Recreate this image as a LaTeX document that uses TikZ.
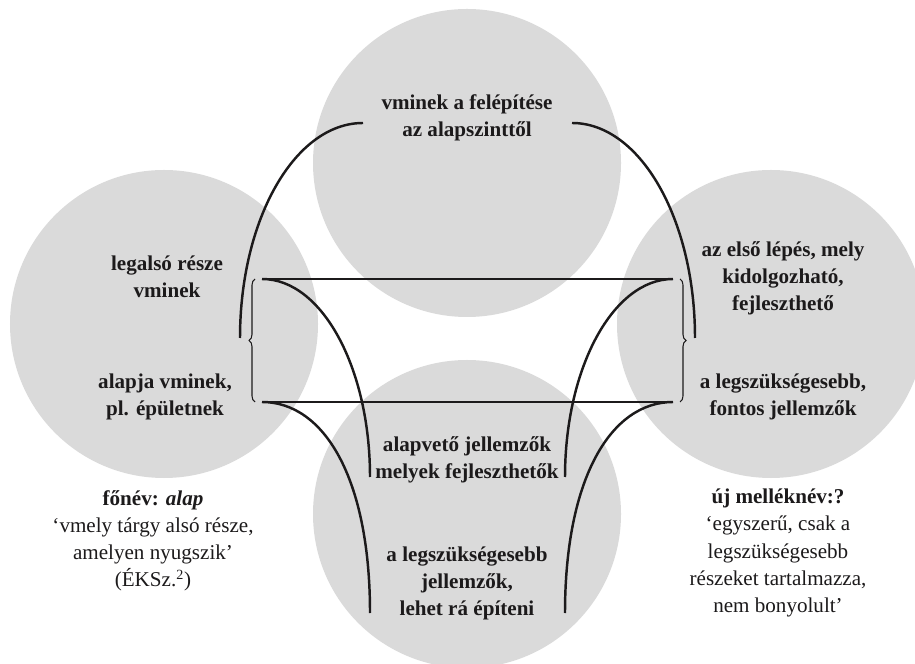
\documentclass[tikz,border=0pt]{standalone}
\usepackage{fontspec}
\setmainfont{Liberation Serif}
\usepackage{tikz}
\usetikzlibrary{decorations.pathreplacing}
\definecolor{discgray}{HTML}{DADADA}
\definecolor{ink}{HTML}{1C1A1B}
\tikzstyle{disc} = [circle, fill=discgray, minimum size=6.16cm, inner sep=0pt]
\tikzstyle{term} = [align=center, text=ink, inner sep=0pt, font=\fontsize{12}{15.4}\selectfont\bfseries]
\tikzstyle{gloss} = [align=center, text=ink, inner sep=0pt, font=\fontsize{12}{15.4}\selectfont]
\tikzstyle{link} = [draw=ink, line width=1.4pt]
\tikzstyle{bar} = [draw=ink, line width=1.1pt]
\tikzstyle{bracket} = [draw=ink, line width=0.6pt, decorate, decoration={brace, amplitude=1.2mm}]

\begin{document}
\begin{tikzpicture}[x=0.2mm, y=-0.2mm]
    \useasboundingbox (0,0) rectangle (915,664);
    % the four circles
    \node (upper) [disc] at (467,163) {};
    \node (left) [disc] at (164,324) {};
    \node (right) [disc] at (771,324) {};
    \node (lower) [disc] at (467,514) {};

    % texts
    \node (build) [term] at (467,118) {vminek a felépítése\\az alapszinttől};
    \node (lowest) [term] at (167,277) {legalsó része\\vminek};
    \node (basis) [term] at (165,397) {alapja vminek,\\pl. épületnek};
    \node (first) [term] at (783,278) {az első lépés, mely\\kidolgozható,\\fejleszthető};
    \node (needed) [term] at (783,397) {a legszükségesebb,\\fontos jellemzők};
    \node (basic) [term] at (467,460) {alapvető jellemzők\\melyek fejleszthetők};
    \node (minimal) [term] at (467,583) {a legszükségesebb\\jellemzők,\\lehet rá építeni};
    \node (noun) [gloss] at (153,541) {\textbf{főnév: \textit{alap}}\\‘vmely tárgy alsó része,\\amelyen nyugszik’\\(ÉKSz.\textsuperscript{2})};
    \node (adj) [gloss] at (778,553) {\textbf{új melléknév:?}\\‘egyszerű, csak a\\legszükségesebb\\részeket tartalmazza,\\nem bonyolult’};

    % end points of the connectors
    \coordinate (tl) at (262,279);
    \coordinate (tr) at (673,279);
    \coordinate (bl) at (262,402);
    \coordinate (br) at (673,402);
    \coordinate (ul) at (363,123);
    \coordinate (ur) at (572,123);
    \coordinate (ulend) at (240,338);
    \coordinate (urend) at (695,338);
    \coordinate (tlend) at (370,477);
    \coordinate (trend) at (565,477);
    \coordinate (blend) at (370,613);
    \coordinate (brend) at (565,613);

    % horizontal bars and braces
    \draw [bar] (tl) -- (tr);
    \draw [bar] (bl) -- (br);
    \draw [bracket] (255,402) -- (255,279);
    \draw [bracket] (680,279) -- (680,402);

    % curved connectors
    \draw [link] (ul) .. controls +(-68,0) and +(0,-119) .. (ulend);
    \draw [link] (ur) .. controls +(68,0) and +(0,-119) .. (urend);
    \draw [link] (tl) .. controls +(60,0) and +(0,-109) .. (tlend);
    \draw [link] (tr) .. controls +(-60,0) and +(0,-109) .. (trend);
    \draw [link] (bl) .. controls +(62,0) and +(0,-135) .. (blend);
    \draw [link] (br) .. controls +(-62,0) and +(0,-135) .. (brend);
\end{tikzpicture}
\end{document}
